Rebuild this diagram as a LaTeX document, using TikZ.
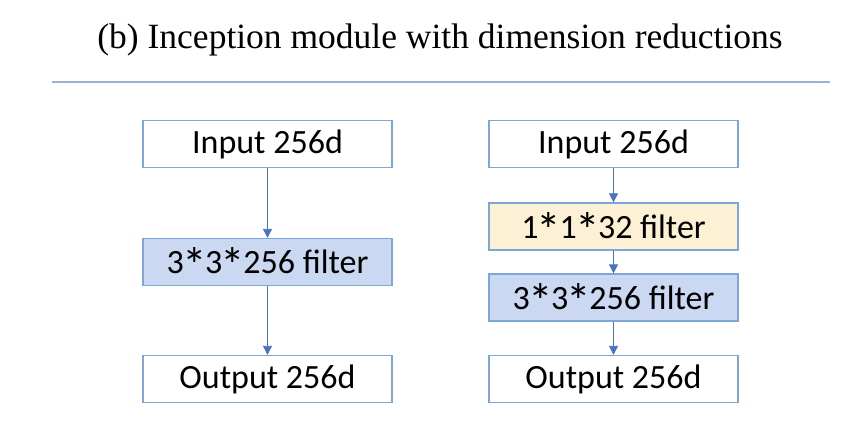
\documentclass[tikz,border=0pt]{standalone}
\usepackage{fontspec}
\setmainfont{Liberation Serif}
\newfontfamily\boxfont{Carlito}
\usepackage{xcolor}
\usepackage{graphicx}
\usetikzlibrary{arrows.meta, positioning}
\definecolor{edgeblue}{HTML}{7FA6DA}
\definecolor{arrowblue}{HTML}{4A72C0}
\definecolor{filterblue}{HTML}{CAD8F1}
\definecolor{reduceyellow}{HTML}{FDF1D5}
\definecolor{rulegray}{HTML}{9DB3D6}
\newcommand\mulsign{\kern-0.05em\smash{\raisebox{-0.55ex}{\scalebox{1.45}{*}}}\kern-0.05em}

\begin{document}
\begin{tikzpicture}[
    x=1pt, y=-1pt,
    layer/.style={rectangle, draw=edgeblue, line width=1.3pt, fill=white, minimum width=249pt, minimum height=47pt, inner sep=0pt, font=\boxfont\fontsize{34}{36}\selectfont},
    filter/.style={layer, fill=filterblue},
    reduce/.style={layer, fill=reduceyellow},
    arrow/.style={draw=arrowblue, line width=0.8pt, -{Triangle[length=9pt, width=9pt]}}
]
\useasboundingbox (0,0) rectangle (866,446);
% Title and rule
\node [font=\fontsize{35.5}{40}\selectfont] (title) at (440,40) {(b) Inception module with dimension reductions};
\draw [rulegray, line width=1.2pt] (52,82) -- (830,82);
% Left column: plain convolution
\node [layer] (inA) at (267.5,144) {Input 256d};
\node [filter] (convA) at (267.5,262) {3\mulsign3\mulsign256 filter};
\node [layer] (outA) at (267.5,379) {Output 256d};
% Right column: with 1x1 reduction
\node [layer] (inB) at (613.5,144) {Input 256d};
\node [reduce] (redB) at (613.5,226.5) {1\mulsign1\mulsign32 filter};
\node [filter] (convB) at (613.5,297.5) {3\mulsign3\mulsign256 filter};
\node [layer] (outB) at (613.5,379) {Output 256d};

\draw [arrow] (inA) -- (convA);
\draw [arrow] (convA) -- (outA);
\draw [arrow] (inB) -- (redB);
\draw [arrow] (redB) -- (convB);
\draw [arrow] (convB) -- (outB);
\end{tikzpicture}
\end{document}
